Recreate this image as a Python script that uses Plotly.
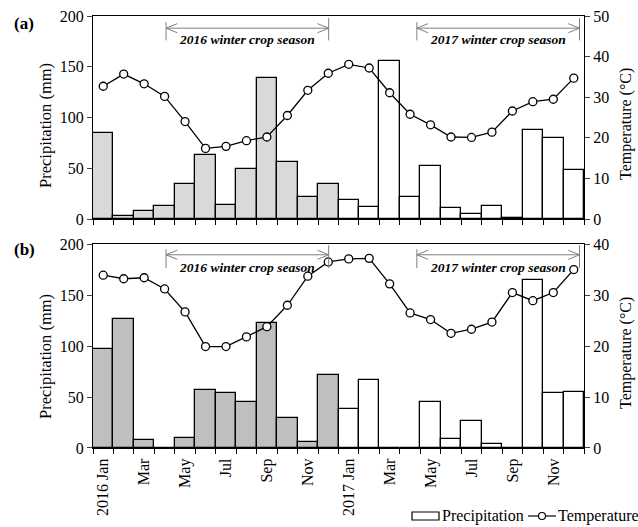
import plotly.graph_objects as go

months = ["2016 Jan", "Feb", "Mar", "Apr", "May", "Jun", "Jul", "Aug", "Sep", "Oct", "Nov", "Dec",
          "2017 Jan", "Feb", "Mar", "Apr", "May", "Jun", "Jul", "Aug", "Sep", "Oct", "Nov", "Dec"]

precip_a = [85, 3.3, 7.5, 13, 34.5, 63, 14, 49.5, 138.5, 56.5, 22, 35,
            18.7, 11.8, 156, 21.6, 52, 10.8, 4.9, 12.4, 1.3, 87.7, 80, 48.4]
temp_a = [32.7, 35.7, 33.3, 30.2, 24.0, 17.4, 17.9, 19.3, 20.2, 25.5, 31.7, 35.9,
          38.1, 37.2, 31.1, 25.8, 23.2, 20.2, 20.1, 21.4, 26.6, 28.9, 29.5, 34.7]

precip_b = [97, 126.5, 7.5, 0, 10, 56.5, 54.2, 45.4, 123, 29.7, 5.9, 71.2,
            38.5, 66.7, 0, 0, 45.4, 8.8, 26.8, 3.6, 0, 164.7, 53.9, 55.2]
temp_b = [33.9, 33.2, 33.4, 31.2, 26.7, 19.9, 19.9, 21.8, 23.8, 28.0, 33.7, 36.5,
          37.1, 37.2, 32.2, 26.5, 25.2, 22.5, 23.3, 24.7, 30.5, 28.9, 30.5, 35.0]

seasons = [("2016 winter crop season", 3.07, 11.02), ("2017 winter crop season", 15.33, 23.28)]

FONT = "Liberation Serif"
x = list(range(len(months)))
x16, x17 = x[:12], x[12:]

W, H = 638, 527
L, R, T, B = 93, 54, 16, 79
PW, PH = W - L - R, H - T - B

def px(xp):
    return (xp - L) / PW

def py(yp):
    return (H - B - yp) / PH

fig = go.Figure()

def add_panel(precip, temp, grey, ya, yb, xa):
    fig.add_trace(go.Bar(x=x16, y=precip[:12], xaxis=xa, yaxis=ya, width=1,
                         marker=dict(color=grey, line=dict(color="black", width=1.3)),
                         showlegend=False, name="Precipitation 2016"))
    fig.add_trace(go.Bar(x=x17, y=precip[12:], xaxis=xa, yaxis=ya, width=1,
                         marker=dict(color="white", line=dict(color="black", width=1.3)),
                         showlegend=False, name="Precipitation"))
    fig.add_trace(go.Scatter(x=x, y=temp, xaxis=xa, yaxis=yb, mode="lines+markers",
                             line=dict(color="black", width=1.3),
                             marker=dict(symbol="circle", size=8, color="white",
                                         line=dict(color="black", width=1.3)),
                             showlegend=False, name="Temperature"))

add_panel(precip_a, temp_a, "#d9d9d9", "y", "y2", "x")
add_panel(precip_b, temp_b, "#bfbfbf", "y3", "y4", "x2")

tickvals = x[::2]
ticktext = months[::2]
bounds = [i - 0.5 for i in range(len(months) + 1)]

common_x = dict(range=[-0.5, 23.5], showline=True, linecolor="black", linewidth=1.3,
                mirror=True, showgrid=False, zeroline=False, ticks="", automargin=False,
                tickvals=tickvals, tickangle=-90,
                minor=dict(tickmode="array", tickvals=bounds, ticks="outside",
                           ticklen=5, tickcolor="black", tickwidth=1.2),
                tickfont=dict(family=FONT, size=16, color="black"))

def yax(**kw):
    d = dict(showline=True, linecolor="black", linewidth=1.3, ticks="outside", ticklen=5,
             tickwidth=1.2, showgrid=False, zeroline=False, automargin=False,
             tickfont=dict(family=FONT, size=16, color="black"))
    d.update(kw)
    return d

fig.update_layout(
    width=W, height=H,
    margin=dict(l=L, r=R, t=T, b=B, autoexpand=False),
    paper_bgcolor="white", plot_bgcolor="white",
    barmode="overlay", bargap=0, showlegend=False,
    font=dict(family=FONT, size=16, color="black"),
    xaxis=dict(common_x, anchor="y", ticktext=[""] * len(tickvals)),
    xaxis2=dict(common_x, anchor="y3", ticktext=ticktext, ticklabelstandoff=3),
    yaxis=yax(domain=[0.53, 1], range=[0, 200], dtick=50),
    yaxis2=yax(overlaying="y", side="right", anchor="x", range=[0, 50], dtick=10),
    yaxis3=yax(domain=[0, 0.472], range=[0, 200], dtick=50, anchor="x2"),
    yaxis4=yax(overlaying="y3", side="right", anchor="x2", range=[0, 40], dtick=10),
)

shapes = []
annotations = []
gray = "#7f7f7f"
for xa, ya, y_arrow, y_top, y_bot in [("x", "y", 188, 198, 176), ("x2", "y3", 189.5, 199, 176.5)]:
    for label, s, e in seasons:
        shapes.append(dict(type="line", xref=xa, yref=ya, x0=s, x1=e, y0=y_arrow, y1=y_arrow,
                           line=dict(color=gray, width=1)))
        shapes.append(dict(type="line", xref=xa, yref=ya, x0=s, x1=s, y0=y_top - 4, y1=y_bot,
                           line=dict(color=gray, width=1)))
        shapes.append(dict(type="line", xref=xa, yref=ya, x0=e, x1=e, y0=y_top, y1=y_bot,
                           line=dict(color=gray, width=1)))
        shapes.append(dict(type="path", xref=xa, yref=ya,
                           path=f"M {s+0.55},{y_arrow+4.5} L {s},{y_arrow} L {s+0.55},{y_arrow-4.5}",
                           line=dict(color=gray, width=1)))
        shapes.append(dict(type="path", xref=xa, yref=ya,
                           path=f"M {e-0.55},{y_arrow+4.5} L {e},{y_arrow} L {e-0.55},{y_arrow-4.5}",
                           line=dict(color=gray, width=1)))
        annotations.append(dict(xref=xa, yref=ya, x=(s + e) / 2, y=y_bot + 1, text=f"<b><i>{label}</i></b>",
                                showarrow=False, font=dict(family=FONT, size=13.5, color="black"),
                                xanchor="center", yanchor="middle"))

# axis titles as rotated text
for yl, yr in ((126, 124), (357, 353)):
    annotations.append(dict(xref="paper", yref="paper", x=px(45), y=py(yl),
                            text="Precipitation (mm)", textangle=-90, showarrow=False,
                            font=dict(family=FONT, size=16.5, color="black"),
                            xanchor="center", yanchor="middle"))
    annotations.append(dict(xref="paper", yref="paper", x=px(626), y=py(yr),
                            text="Temperature (°C)", textangle=-90, showarrow=False,
                            font=dict(family=FONT, size=16, color="black"),
                            xanchor="center", yanchor="middle"))

annotations.append(dict(xref="paper", yref="paper", x=px(12), y=py(23), text="<b>(a)</b>",
                        showarrow=False, font=dict(family=FONT, size=17), xanchor="left",
                        yanchor="middle"))
annotations.append(dict(xref="paper", yref="paper", x=px(12), y=py(249), text="<b>(b)</b>",
                        showarrow=False, font=dict(family=FONT, size=17), xanchor="left",
                        yanchor="middle"))

# custom legend
ly = 516
shapes.append(dict(type="rect", xref="paper", yref="paper", x0=px(412), x1=px(439),
                   y0=py(520), y1=py(512), line=dict(color="black", width=1.2), fillcolor="white"))
annotations.append(dict(xref="paper", yref="paper", x=px(440), y=py(ly), text="Precipitation",
                        showarrow=False, font=dict(family=FONT, size=16), xanchor="left",
                        yanchor="middle"))
shapes.append(dict(type="line", xref="paper", yref="paper", x0=px(528), x1=px(556),
                   y0=py(ly), y1=py(ly), line=dict(color="black", width=1.2)))
shapes.append(dict(type="circle", xref="paper", yref="paper", x0=px(538.5), x1=px(545.5),
                   y0=py(ly + 3.5), y1=py(ly - 3.5), line=dict(color="black", width=1.2),
                   fillcolor="white"))
annotations.append(dict(xref="paper", yref="paper", x=px(556), y=py(ly), text="Temperature",
                        showarrow=False, font=dict(family=FONT, size=16), xanchor="left",
                        yanchor="middle"))

fig.update_layout(shapes=shapes, annotations=annotations)

fig.write_html("out.html")
